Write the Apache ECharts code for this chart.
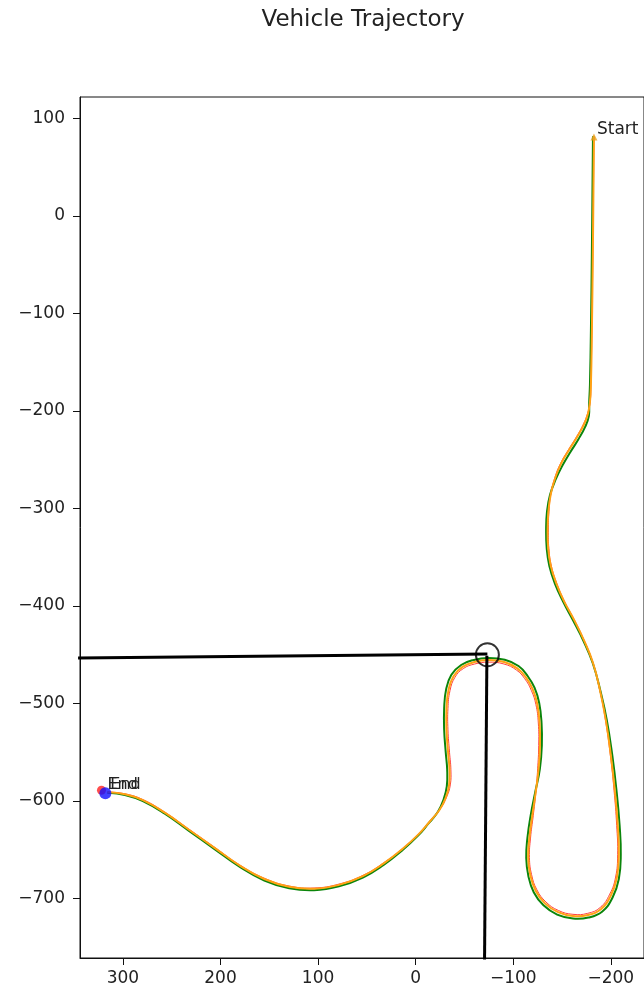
<!DOCTYPE html>
<html>
<head>
<meta charset="utf-8">
<script src="https://cdn.jsdelivr.net/npm/echarts@6/dist/echarts.min.js"></script>
<style>
  html, body { margin: 0; padding: 0; background: #ffffff; }
  #chart { width: 644px; height: 992px; }
</style>
</head>
<body>
<div id="chart"></div>
<script>
// Tick values on both axes
const xTicks = [300, 200, 100, 0, -100, -200];
const yTicks = [100, 0, -100, -200, -300, -400, -500, -600, -700];

// Driven trajectory (orange)
const vehiclePath = [
  [-182.7, 81], [-181.6, -35], [-180.6, -117], [-179.6, -173], [-178.6, -191],
  [-176.5, -203], [-172.4, -214], [-165.3, -227], [-157.1, -240], [-149, -254],
  [-142.9, -269], [-138.5, -285], [-136, -303], [-135.2, -322], [-135.8, -341],
  [-138.5, -359], [-144.2, -377], [-152, -395], [-162.2, -414], [-172.4, -435],
  [-181.6, -458], [-188.8, -486], [-194.9, -517], [-200, -553], [-204.1, -589],
  [-207.1, -625], [-208.2, -655], [-206.1, -679], [-200, -697], [-189.8, -711],
  [-176.5, -717], [-161.2, -718], [-145.9, -714], [-132.5, -705], [-123, -692],
  [-117.5, -676], [-115.3, -658], [-116.5, -638], [-119.5, -615], [-123, -591],
  [-126, -567], [-127.4, -543], [-127, -520], [-124.5, -500], [-119.8, -485],
  [-112.8, -473], [-104.1, -464], [-90.8, -457.5], [-74.5, -455.5], [-60.2, -457.5],
  [-48, -462.5], [-38.8, -472], [-33.7, -486], [-31.6, -505], [-31.6, -527],
  [-33.2, -550], [-34.7, -568], [-34.2, -584], [-30.6, -597], [-24.5, -609],
  [-14.5, -621], [-3.1, -634], [13.3, -649], [32.7, -664], [54.1, -677],
  [78.6, -686], [104.1, -690], [129.6, -688], [155.1, -680], [180.6, -666],
  [206.1, -648], [231.6, -630], [257.1, -612], [279.6, -599], [298, -593],
  [315.3, -591]
];

// Reference route (green)
const referencePath = [
  [-181.7, 81], [-180.6, -35], [-179.6, -117], [-178.6, -173], [-177.8, -192],
  [-177.5, -205], [-173.8, -216], [-166.8, -229], [-158.6, -242], [-150.4, -256],
  [-143.6, -270], [-137.7, -286], [-134.6, -303], [-133.7, -322], [-134.3, -341],
  [-137, -359], [-142.7, -377], [-150.8, -395], [-161.4, -415], [-172, -436],
  [-181.6, -459], [-189.3, -487], [-195.9, -517], [-201.5, -553], [-205.8, -589],
  [-209, -625], [-210.2, -655], [-208.2, -680], [-201.8, -699], [-191, -713.5],
  [-177, -719.5], [-161.2, -720.5], [-145, -716.5], [-131, -707], [-121, -693.5],
  [-115.5, -677], [-113.3, -658.5], [-114.5, -638], [-117.8, -615], [-122.5, -591],
  [-127.3, -567], [-129.3, -543], [-129, -520], [-126.6, -499.5], [-121.8, -483.8],
  [-114.5, -471.5], [-105.4, -461.5], [-91.3, -455.2], [-74.5, -453.3], [-59.6, -455.3],
  [-46.6, -460.5], [-36.6, -470.5], [-31.2, -485.5], [-29.2, -505], [-29.2, -527],
  [-30.8, -550], [-32.3, -568], [-31.9, -585], [-28.6, -598.5], [-22.8, -611],
  [-13.2, -623], [-2.2, -635.8], [13.6, -650.5], [32.8, -665.5], [54.1, -678.5],
  [78.6, -687.5], [104.1, -691.5], [129.6, -689.5], [155.1, -681.5], [180.6, -667.3],
  [206.1, -649.3], [231.6, -631.2], [257.1, -613], [279.6, -600], [298, -593.8],
  [315.3, -591.5]
];

// Estimated trajectory (red, thin)
const estimatePath = [
  [-182.7, 81], [-181.6, -35], [-180.6, -117], [-179.6, -173], [-178.8, -191],
  [-176.2, -202.5], [-171.9, -213.5], [-164.8, -226.5], [-156.7, -239.5], [-148.6, -253.5],
  [-142.6, -268.5], [-138.6, -285], [-136.6, -303], [-136, -322], [-136.5, -341],
  [-139.1, -359], [-144.7, -377], [-152.4, -395], [-162.5, -414], [-172.6, -435],
  [-181.6, -458], [-188.6, -486], [-194.5, -517], [-199.5, -553], [-203.3, -589],
  [-206, -625], [-207, -655], [-204.9, -678], [-198.9, -695.5], [-189.1, -709.2],
  [-176.3, -715.2], [-161.2, -716.2], [-146.4, -712.3], [-133.5, -703.5], [-124.2, -691],
  [-118.8, -675.5], [-116.6, -658], [-117.7, -638], [-120.5, -615], [-123.2, -591],
  [-125, -567], [-126.1, -543], [-125.7, -520], [-123.2, -501], [-118.5, -486.5],
  [-111.8, -474.6], [-103.4, -465.8], [-90.5, -459.5], [-74.5, -457.6], [-60.5, -459.5],
  [-48.8, -464.2], [-40.2, -473.2], [-35.2, -486.8], [-33.1, -505], [-33.1, -527],
  [-34.7, -550], [-36.1, -568], [-35.5, -583.5], [-31.7, -596], [-25.4, -607.8],
  [-15.3, -619.8], [-3.8, -632.8], [12.9, -648.2], [32.5, -663.2], [54, -676.2],
  [78.6, -685.2], [104.1, -689.2], [129.6, -687.2], [155.1, -679.2], [180.6, -665.4],
  [206.1, -647.4], [231.6, -629.4], [257.1, -611.4], [279.6, -598.5], [298, -592.6],
  [315.3, -590.7]
];

// Key points and guide lines
const startPoint = [-182.7, 81];
const endPoint = [322, -589];
const goalPoint = [318, -592];
const markerCircle = [-73.5, -450];
const horizontalGuide = [[346, -453.3], [-73.5, -449.2]];
const verticalGuide = [[-73, -451], [-70.5, -775]];

const FONT = 'DejaVu Sans';
const INK = '#222222';
const AXIS = '#111111';
const minusSign = v => String(v).replace('-', '\u2212');

const chart = echarts.init(document.getElementById('chart'), null, { renderer: 'canvas' });

// A trajectory drawn as one smooth polyline; every vertex goes through api.coord
const pathSeries = (name, path, color, width, z) => ({
  name, type: 'custom', z, silent: true,
  coordinateSystem: 'cartesian2d',
  data: path,
  encode: { x: 0, y: 1 },
  renderItem: (params, api) => {
    if (params.dataIndex !== 0) return null;
    const pts = path.map(p => api.coord(p));
    const cs = params.coordSys;
    return {
      type: 'polyline',
      shape: { points: pts, smooth: 0.45 },
      style: { stroke: color, lineWidth: width, fill: null, lineJoin: 'round', lineCap: 'round' },
      clipPath: { type: 'rect', shape: { x: cs.x, y: cs.y, width: cs.width, height: cs.height } }
    };
  }
});

const axisCommon = (ticks, margin) => ({
  type: 'value',
  axisLine: { show: true, onZero: false, lineStyle: { color: AXIS, width: 1 } },
  axisTick: { show: true, inside: false, length: 7, lineStyle: { color: AXIS }, customValues: ticks },
  axisLabel: {
    customValues: ticks, margin, fontSize: 17, fontFamily: FONT, color: INK,
    formatter: minusSign
  },
  splitLine: { show: false }
});

chart.setOption({
  animation: false,
  backgroundColor: '#ffffff',
  grid: {
    left: 80, right: -2, top: 97, bottom: 34,
    show: true, borderColor: AXIS, borderWidth: 1, backgroundColor: 'transparent'
  },
  xAxis: Object.assign(axisCommon(xTicks, 12), { inverse: true, min: -234, max: 344 }),
  yAxis: Object.assign(axisCommon(yTicks, 15), { min: -761, max: 122 }),
  series: [
    pathSeries('reference', referencePath, '#0b850b', 2, 2),
    pathSeries('estimate', estimatePath, '#ff4040', 1, 3),
    pathSeries('vehicle', vehiclePath, '#ffa214', 2, 4),
    {
      name: 'guideH', type: 'line', data: horizontalGuide, symbol: 'none',
      lineStyle: { color: '#000000', width: 3 }, z: 6, clip: true
    },
    {
      name: 'guideV', type: 'line', data: verticalGuide, symbol: 'none',
      lineStyle: { color: '#000000', width: 3 }, z: 6, clip: true
    },
    {
      name: 'circle', type: 'scatter', data: [markerCircle], symbol: 'circle', symbolSize: 23,
      itemStyle: { color: 'rgba(0,0,0,0)', borderColor: '#000000', borderWidth: 2 }, z: 7
    },
    {
      name: 'start', type: 'scatter', data: [startPoint], symbol: 'triangle', symbolSize: 7,
      itemStyle: { color: '#e8a020' }, z: 8
    },
    {
      name: 'end', type: 'scatter', data: [endPoint], symbol: 'circle', symbolSize: 9,
      itemStyle: { color: '#ff2020' }, z: 8
    },
    {
      name: 'goal', type: 'scatter', data: [goalPoint], symbol: 'circle', symbolSize: 12,
      itemStyle: { color: '#1010ff' }, z: 9
    }
  ]
});

// Title and point annotations, positioned through the grid's coordinate conversion
const sp = chart.convertToPixel({ gridIndex: 0 }, startPoint);
const ep = chart.convertToPixel({ gridIndex: 0 }, endPoint);
const gp = chart.convertToPixel({ gridIndex: 0 }, goalPoint);
const textEl = (text, x, y, size, align) => ({
  type: 'text', x, y, z: 20,
  style: {
    text, fill: INK, font: size + 'px "' + FONT + '"',
    align: align, textAlign: align, verticalAlign: 'middle', textVerticalAlign: 'middle'
  }
});
chart.setOption({
  graphic: [
    textEl('Vehicle Trajectory', 363, 20, 23, 'center'),
    textEl('Start', sp[0] + 3, sp[1] - 7, 17, 'left'),
    textEl('End', ep[0] + 6, ep[1] - 5, 16, 'left'),
    textEl('End', gp[0] + 5, gp[1] - 8, 16, 'left')
  ]
});
</script>
</body>
</html>
